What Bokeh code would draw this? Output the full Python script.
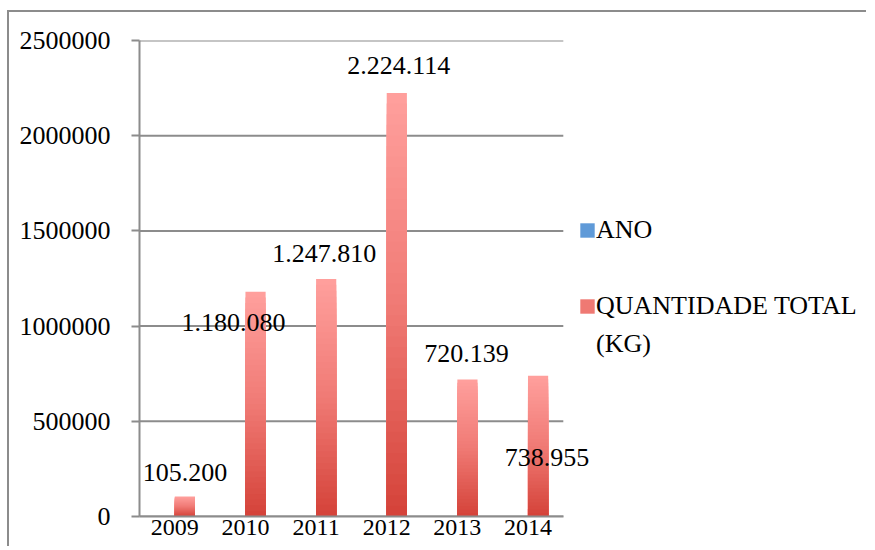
from bokeh.plotting import figure
from bokeh.models import (ColumnDataSource, Range1d, FixedTicker, Legend, LegendItem, LabelSet)
from bokeh.embed import file_html
from bokeh.resources import INLINE

# ---- data ----
years = ["2009", "2010", "2011", "2012", "2013", "2014"]
ano = [2009, 2010, 2011, 2012, 2013, 2014]
quantidade = [105200, 1180080, 1247810, 2224114, 720139, 738955]
y_ticks = [0, 500000, 1000000, 1500000, 2000000, 2500000]
series_names = ["ANO", "QUANTIDADE TOTAL", "(KG)"]

# ---- styling ----
SERIF = "Liberation Serif"
FS = "26px"
GRID = "#8c8c8c"
BLUE = "#5f9ad8"
CAT_PX = 70.67          # pixel width of one category slot
X_END = 10.25           # plot area extends right of the categories (room for legend)
# data label offsets in screen px (dx right, dy up)
label_dx = [0, -22, -2, 2, -1, 9]
label_dy = [24, -31, 25, 28, 26, -82]
BAR_W = 1 / 3.5
OFF = BAR_W / 2

stops = [(0.0, (212, 66, 56)), (0.5, (240, 122, 117)), (1.0, (255, 160, 157))]


def grad(t):
    for (t0, c0), (t1, c1) in zip(stops[:-1], stops[1:]):
        if t0 <= t <= t1:
            f = (t - t0) / (t1 - t0)
            return "#%02x%02x%02x" % tuple(int(round(a + (b - a) * f)) for a, b in zip(c0, c1))
    return "#%02x%02x%02x" % stops[-1][1]


n = len(years)
centers = [i + 0.5 for i in range(n)]

K = 40
seg = dict(x=[], top=[], color=[])
for k in range(K - 1, -1, -1):
    for c, v in zip(centers, quantidade):
        seg["x"].append(c + OFF)
        seg["top"].append(v * (k + 1) / K)
        seg["color"].append(grad((k + 0.5) / K))
seg_src = ColumnDataSource(seg)

src = ColumnDataSource(dict(
    xb=[c - OFF for c in centers], xr=[c + OFF for c in centers],
    ano=ano, q=quantidade,
    txt=[f"{v:,}".replace(",", ".") for v in quantidade],
    dx=label_dx, dy=label_dy,
))
grid_src = ColumnDataSource(dict(y=y_ticks, x0=[0] * len(y_ticks), x1=[n] * len(y_ticks)))

p = figure(x_range=Range1d(0, X_END), y_range=Range1d(0, 2500000),
           frame_width=round(CAT_PX * X_END), frame_height=476,
           output_backend="svg", toolbar_location=None,
           min_border_left=130, min_border_top=28, min_border_bottom=30, min_border_right=3)
p.styles = {"border-left": "2px solid #8c8c8c", "border-top": "2px solid #8c8c8c",
            "margin-top": "10px", "margin-left": "7px"}
p.outline_line_color = None
p.background_fill_color = "white"
p.border_fill_color = "white"
p.xgrid.grid_line_color = None
p.ygrid.grid_line_color = None

# horizontal gridlines across the category area only
p.segment(x0="x0", x1="x1", y0="y", y1="y", source=grid_src, line_color=GRID, line_width=2)

blue_r = p.vbar(x="xb", top="ano", width=BAR_W, source=src, fill_color=BLUE, line_color=None)
red_r = p.vbar(x="x", top="top", width=BAR_W, source=seg_src, fill_color="color", line_color=None)
blank_r = p.vbar(x="xr", top="ano", width=BAR_W, source=src, fill_alpha=0, line_alpha=0)

p.add_layout(LabelSet(x="xr", y="q", text="txt", source=src,
                      x_offset="dx", y_offset="dy", text_align="center", text_baseline="middle",
                      text_font=SERIF, text_font_size=FS, text_color="black"))

# axes
p.yaxis.ticker = FixedTicker(ticks=y_ticks)
p.yaxis.major_label_overrides = {t: str(t) for t in y_ticks}
p.xaxis.ticker = FixedTicker(ticks=centers)
p.xaxis.major_label_overrides = {c: y for c, y in zip(centers, years)}
p.xaxis.bounds = (0, n)
for ax in (p.xaxis[0], p.yaxis[0]):
    ax.axis_line_color = GRID
    ax.axis_line_width = 2
    ax.major_tick_line_color = GRID
    ax.major_tick_line_width = 2
    ax.minor_tick_line_color = None
    ax.major_label_text_font = SERIF
    ax.major_label_text_font_size = FS
    ax.major_label_text_color = "black"
p.yaxis.major_tick_out = 8
p.yaxis.major_tick_in = 0
p.yaxis.major_label_standoff = 21
p.xaxis.major_tick_line_color = None
p.xaxis.major_tick_out = 0
p.xaxis.major_tick_in = 0
p.xaxis.major_label_standoff = 3
p.xaxis.major_label_text_font_size = "24px"

legend = Legend(items=[LegendItem(label=series_names[0], renderers=[blue_r]),
                       LegendItem(label=" ", renderers=[blank_r]),
                       LegendItem(label=series_names[1], renderers=[red_r], index=n * (K // 2)),
                       LegendItem(label=series_names[2], renderers=[blank_r])],
                location=(439, 157), orientation="vertical",
                glyph_width=18, glyph_height=18, label_standoff=0, label_height=30,
                spacing=8, padding=0, margin=0,
                border_line_color=None, background_fill_alpha=0,
                label_text_font=SERIF, label_text_font_size=FS, label_text_color="black")
p.add_layout(legend, "center")

open("out.html", "w").write(file_html(p, INLINE))
